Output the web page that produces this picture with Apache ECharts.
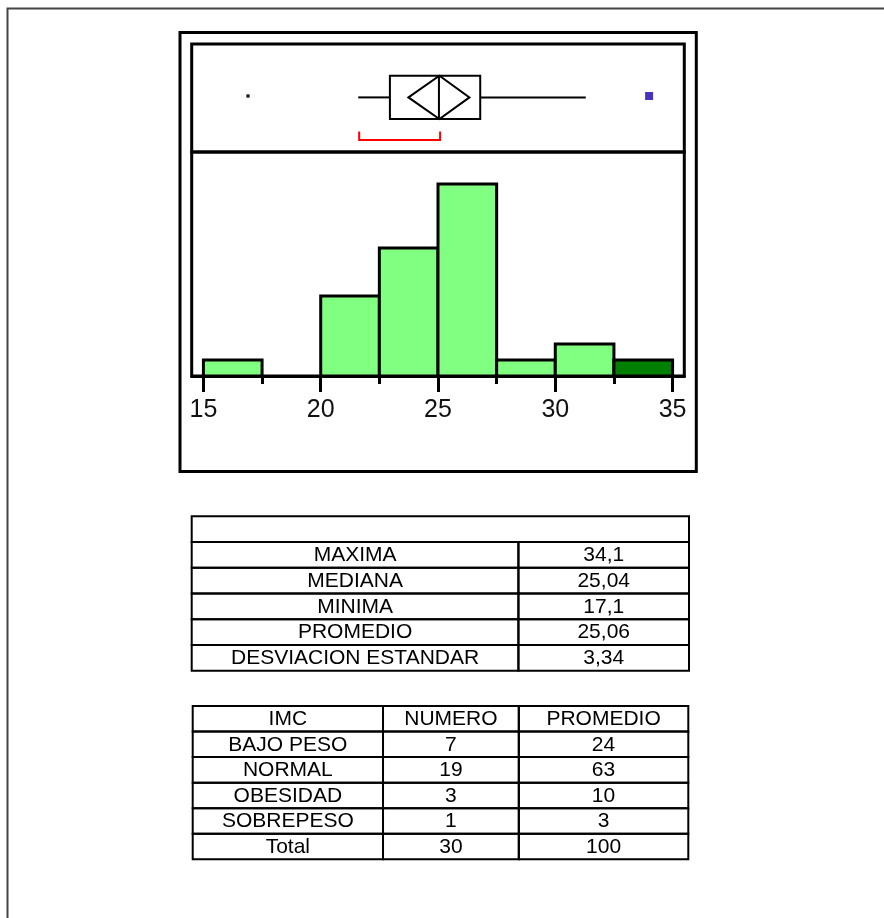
<!DOCTYPE html>
<html><head><meta charset="utf-8">
<script src="https://cdn.jsdelivr.net/npm/echarts@6/dist/echarts.min.js"></script>
<style>html,body{margin:0;padding:0;background:#fff}#c{width:884px;height:918px}</style>
</head><body><div id="c"></div>
<script>
// ---------- DATA ----------
const binStarts = [15, 17.5, 20, 22.5, 25, 27.5, 30, 32.5];
const binEnds = [17.5, 20, 22.5, 25, 27.5, 30, 32.5, 35];
const binCounts = [1, 0, 5, 8, 12, 1, 2, 1];
const binHighlight = [0, 0, 0, 0, 0, 0, 0, 1];
const xTickValues = [15, 20, 25, 30, 35];
const xMinorTickValues = [17.5, 22.5, 27.5, 32.5];
// whisker low, Q1, median, Q3, whisker high
const boxStats = [21.6, 22.95, 25.04, 26.8, 31.3];
// mean confidence diamond: left, centre, right
const meanDiamond = [23.74, 25.06, 26.34];
// shortest half bracket
const shortestHalf = [21.64, 25.09];
const outlierPoints = [16.9];
const maxPoints = [34.0];

const statNames = ['MAXIMA', 'MEDIANA', 'MINIMA', 'PROMEDIO', 'DESVIACION ESTANDAR'];
const statValues = ['34,1', '25,04', '17,1', '25,06', '3,34'];

const imcHeader = ['IMC', 'NUMERO', 'PROMEDIO'];
const imcCategories = ['BAJO PESO', 'NORMAL', 'OBESIDAD', 'SOBREPESO', 'Total'];
const imcNumero = [7, 19, 3, 1, 30];
const imcPromedio = [24, 63, 10, 3, 100];

// ---------- LAYOUT / STYLE ----------
const FONT = '"Liberation Sans", Arial, sans-serif';
const X_MIN = 14.5, X_MAX = 35.5;
const PLOT_LEFT = 191.7, PLOT_W = 492.6;
const table1Edges = [0, 0.657, 1];
const table2Edges = [0, 0.384, 0.658, 1];

// table cells
const t1Cells = [{ col: 0, span: 2, row: 0, text: '' }];
statNames.forEach((n, i) => {
  t1Cells.push({ col: 0, span: 1, row: i + 1, text: n });
  t1Cells.push({ col: 1, span: 1, row: i + 1, text: statValues[i] });
});
const t2Cells = [];
imcHeader.forEach((h, c) => t2Cells.push({ col: c, span: 1, row: 0, text: h }));
imcCategories.forEach((n, i) => {
  t2Cells.push({ col: 0, span: 1, row: i + 1, text: n });
  t2Cells.push({ col: 1, span: 1, row: i + 1, text: String(imcNumero[i]) });
  t2Cells.push({ col: 2, span: 1, row: i + 1, text: String(imcPromedio[i]) });
});

function tableRender(cells, edges) {
  return function (params, api) {
    const cell = cells[params.dataIndex];
    const r = cell.row;
    const cy = api.coord([0, r])[1];
    const bh = api.size([0, 1])[1];
    const x0 = api.coord([edges[cell.col], r])[0];
    const x1 = api.coord([edges[cell.col + cell.span], r])[0];
    return {
      type: 'group',
      children: [
        { type: 'rect', shape: { x: x0, y: cy - bh / 2, width: x1 - x0, height: bh },
          style: { fill: 'none', stroke: '#000', lineWidth: 2 } },
        { type: 'text', style: { text: cell.text, x: (x0 + x1) / 2, y: cy + 0.5,
          align: 'center', verticalAlign: 'middle', fill: '#000',
          font: '21px ' + FONT } }
      ]
    };
  };
}

const chart = echarts.init(document.getElementById('c'), null, { renderer: 'canvas' });

const option = {
  backgroundColor: '#fff',
  animation: false,
  grid: [
    { left: PLOT_LEFT, width: PLOT_W, top: 152, height: 224, show: true, borderColor: '#000', borderWidth: 3, backgroundColor: 'transparent', containLabel: false },
    { left: PLOT_LEFT, width: PLOT_W, top: 44, height: 108, show: true, borderColor: '#000', borderWidth: 3, backgroundColor: 'transparent', containLabel: false },
    { left: 191.7, width: 497.3, top: 516.3, height: 154.4, show: false },
    { left: 192.7, width: 495.6, top: 706, height: 153.3, show: false }
  ],
  xAxis: [
    { type: 'value', gridIndex: 0, min: X_MIN, max: X_MAX, position: 'bottom',
      axisLine: { show: true, lineStyle: { color: '#000', width: 3 } },
      axisTick: { show: true, customValues: xTickValues, length: 16, lineStyle: { color: '#000', width: 3 } },
      axisLabel: { show: true, customValues: xTickValues, fontSize: 25, margin: 22, color: '#111', fontFamily: FONT },
      splitLine: { show: false } },
    { type: 'value', gridIndex: 0, min: X_MIN, max: X_MAX, position: 'bottom', offset: 0,
      axisLine: { show: false },
      axisTick: { show: true, customValues: xMinorTickValues, length: 8, lineStyle: { color: '#000', width: 3 } },
      axisLabel: { show: false },
      splitLine: { show: false } },
    { type: 'value', gridIndex: 1, min: X_MIN, max: X_MAX, show: false },
    { type: 'value', gridIndex: 2, min: 0, max: 1, show: false },
    { type: 'value', gridIndex: 3, min: 0, max: 1, show: false }
  ],
  yAxis: [
    { type: 'value', gridIndex: 0, min: 0, max: 14, show: false },
    { type: 'category', gridIndex: 1, data: [''], show: false },
    { type: 'category', gridIndex: 2, data: ['header'].concat(statNames), inverse: true, show: false },
    { type: 'category', gridIndex: 3, data: ['header'].concat(imcCategories), inverse: true, show: false }
  ],
  series: [
    {
      type: 'custom', xAxisIndex: 0, yAxisIndex: 0,
      data: binStarts.map((s, i) => [s, binEnds[i], binCounts[i], binHighlight[i]]),
      encode: { x: [0, 1], y: 2 },
      renderItem: function (params, api) {
        const cnt = api.value(2);
        if (!cnt) return null;
        const p0 = api.coord([api.value(0), cnt]);
        const p1 = api.coord([api.value(1), 0]);
        return {
          type: 'rect',
          shape: { x: p0[0], y: p0[1], width: p1[0] - p0[0], height: p1[1] - p0[1] },
          style: { fill: api.value(3) ? '#007F00' : '#80FF80', stroke: '#000', lineWidth: 3 }
        };
      },
      z: 1
    },
    {
      type: 'custom', xAxisIndex: 2, yAxisIndex: 1,
      data: [[boxStats[0], boxStats[1], boxStats[2], boxStats[3], boxStats[4],
              meanDiamond[0], meanDiamond[1], meanDiamond[2], shortestHalf[0], shortestHalf[1]]],
      encode: { x: [0, 1, 2, 3, 4, 5, 6, 7, 8, 9] },
      renderItem: function (params, api) {
        const X = v => api.coord([v, 0])[0];
        const cy = api.coord([api.value(2), 0])[1] - 0.6;
        const hh = 21.7;
        const s = { stroke: '#000', lineWidth: 2, fill: 'none' };
        const wl = X(api.value(0)), q1 = X(api.value(1)), md = X(api.value(2)),
              q3 = X(api.value(3)), wh = X(api.value(4));
        const dl = X(api.value(5)), dc = X(api.value(6)), dr = X(api.value(7));
        const s0 = X(api.value(8)), s1 = X(api.value(9));
        return {
          type: 'group',
          children: [
            { type: 'line', shape: { x1: wl, y1: cy, x2: q1, y2: cy }, style: s },
            { type: 'line', shape: { x1: q3, y1: cy, x2: wh, y2: cy }, style: s },
            { type: 'rect', shape: { x: q1, y: cy - hh, width: q3 - q1, height: 2 * hh }, style: s },
            { type: 'line', shape: { x1: md, y1: cy - hh, x2: md, y2: cy + hh }, style: s },
            { type: 'polygon', shape: { points: [[dl, cy], [dc, cy - hh], [dr, cy], [dc, cy + hh]] }, style: s },
            { type: 'polyline', shape: { points: [[s0, cy + 34], [s0, cy + 42.5], [s1, cy + 42.5], [s1, cy + 34]] },
              style: { stroke: '#FF0000', lineWidth: 2, fill: 'none' } }
          ]
        };
      }
    },
    {
      type: 'scatter', xAxisIndex: 2, yAxisIndex: 1,
      data: outlierPoints.map(v => [v, 0]),
      symbol: 'circle', symbolSize: 4, itemStyle: { color: '#000' }, symbolOffset: [0, -2]
    },
    {
      type: 'scatter', xAxisIndex: 2, yAxisIndex: 1,
      data: maxPoints.map(v => [v, 0]),
      symbol: 'rect', symbolSize: 8, itemStyle: { color: '#1A00B0' }, symbolOffset: [0, -2]
    },
    {
      type: 'custom', xAxisIndex: 3, yAxisIndex: 2,
      data: t1Cells.map(c => [table1Edges[c.col], c.row]),
      renderItem: tableRender(t1Cells, table1Edges)
    },
    {
      type: 'custom', xAxisIndex: 4, yAxisIndex: 3,
      data: t2Cells.map(c => [table2Edges[c.col], c.row]),
      renderItem: tableRender(t2Cells, table2Edges)
    }
  ],
  graphic: [
    { type: 'rect', shape: { x: 180, y: 32.5, width: 516.3, height: 439 },
      style: { fill: 'none', stroke: '#000', lineWidth: 3 }, silent: true },
    { type: 'polyline', shape: { points: [[7.5, 918], [7.5, 8.5], [884, 8.5]] },
      style: { stroke: '#444', lineWidth: 2, fill: 'none' }, silent: true }
  ]
};
chart.setOption(option);
</script>
</body></html>
